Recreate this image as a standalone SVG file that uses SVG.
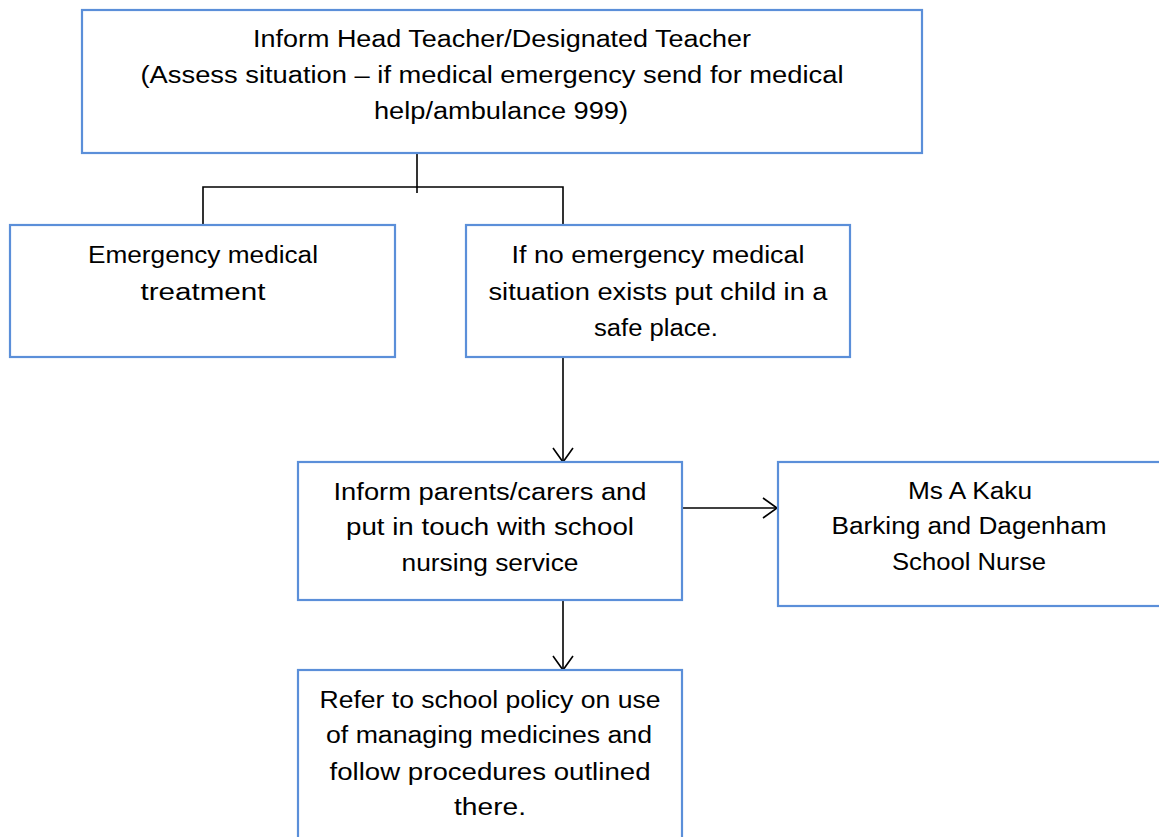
<svg xmlns="http://www.w3.org/2000/svg" width="1159" height="837" viewBox="0 0 1159 837">
<style>
.box{fill:#fff;stroke:#5b8fd9;stroke-width:2.2}
.t{font-family:"Liberation Sans",Arial,sans-serif;font-size:23px;fill:#000;text-anchor:middle}
.c{fill:none;stroke:#000;stroke-width:1.6}
</style>
<defs>
<marker id="arr" markerUnits="userSpaceOnUse" markerWidth="20" markerHeight="24" refX="14" refY="10" orient="auto" overflow="visible">
<path d="M0,0 L14,10 L0,20" fill="none" stroke="#000" stroke-width="1.6"/>
</marker>
</defs>
<rect width="1159" height="837" fill="#fff"/>
<g id="connectors">
<path class="c" d="M417,153 V193"/>
<path class="c" d="M203,225 V187 H563 V225"/>
<path class="c" d="M563,357 V462" marker-end="url(#arr)"/>
<path class="c" d="M682,508 H777" marker-end="url(#arr)"/>
<path class="c" d="M563,600 V670" marker-end="url(#arr)"/>
</g>
<g id="n1">
<rect class="box" x="82" y="10" width="840" height="143"/>
<text class="t" x="502" y="47" textLength="498" lengthAdjust="spacingAndGlyphs">Inform Head Teacher/Designated Teacher</text>
<text class="t" x="492" y="83" textLength="703" lengthAdjust="spacingAndGlyphs">(Assess situation – if medical emergency send for medical</text>
<text class="t" x="501" y="119" textLength="254" lengthAdjust="spacingAndGlyphs">help/ambulance 999)</text>
</g>
<g id="n2">
<rect class="box" x="10" y="225" width="385" height="132"/>
<text class="t" x="203" y="263" textLength="230" lengthAdjust="spacingAndGlyphs">Emergency medical</text>
<text class="t" x="203" y="300" textLength="125" lengthAdjust="spacingAndGlyphs">treatment</text>
</g>
<g id="n3">
<rect class="box" x="466" y="225" width="384" height="132"/>
<text class="t" x="658" y="263" textLength="293" lengthAdjust="spacingAndGlyphs">If no emergency medical</text>
<text class="t" x="658" y="300" textLength="339" lengthAdjust="spacingAndGlyphs">situation exists put child in a</text>
<text class="t" x="656" y="336" textLength="124" lengthAdjust="spacingAndGlyphs">safe place.</text>
</g>
<g id="n4">
<rect class="box" x="298" y="462" width="384" height="138"/>
<text class="t" x="490" y="500" textLength="313" lengthAdjust="spacingAndGlyphs">Inform parents/carers and</text>
<text class="t" x="490" y="535" textLength="288" lengthAdjust="spacingAndGlyphs">put in touch with school</text>
<text class="t" x="490" y="571" textLength="177" lengthAdjust="spacingAndGlyphs">nursing service</text>
</g>
<g id="n5">
<rect class="box" x="778" y="462" width="390" height="144"/>
<text class="t" x="970" y="499" textLength="124" lengthAdjust="spacingAndGlyphs">Ms A Kaku</text>
<text class="t" x="969" y="534" textLength="275" lengthAdjust="spacingAndGlyphs">Barking and Dagenham</text>
<text class="t" x="969" y="570" textLength="154" lengthAdjust="spacingAndGlyphs">School Nurse</text>
</g>
<g id="n6">
<rect class="box" x="298" y="670" width="384" height="180"/>
<text class="t" x="490" y="708" textLength="341" lengthAdjust="spacingAndGlyphs">Refer to school policy on use</text>
<text class="t" x="489" y="743" textLength="326" lengthAdjust="spacingAndGlyphs">of managing medicines and</text>
<text class="t" x="490" y="780" textLength="321" lengthAdjust="spacingAndGlyphs">follow procedures outlined</text>
<text class="t" x="490" y="815" textLength="72" lengthAdjust="spacingAndGlyphs">there.</text>
</g>
</svg>
